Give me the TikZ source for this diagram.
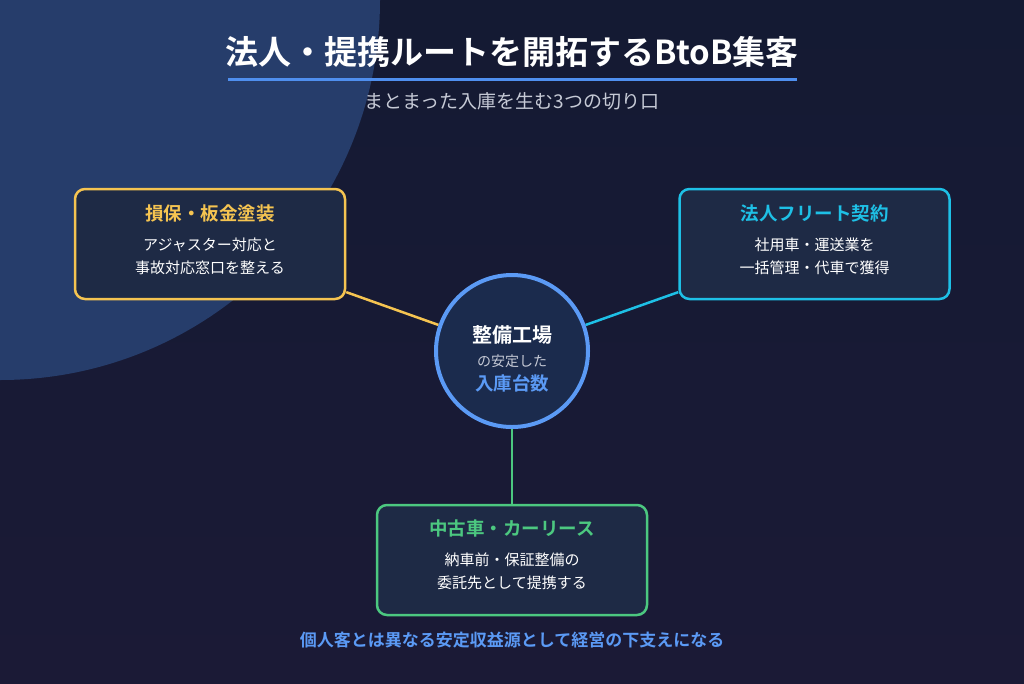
\documentclass[tikz,border=0pt]{standalone}
\usepackage{fontspec}
\setmainfont{Noto Sans CJK JP}[BoldFont={* Bold}]
\definecolor{bgtop}{HTML}{141A33}
\definecolor{bgbot}{HTML}{1B1A36}
\definecolor{blob}{HTML}{263D6B}
\definecolor{boxfill}{HTML}{1E2A45}
\definecolor{hubfill}{HTML}{1B2B4D}
\definecolor{accblue}{HTML}{5B9AF5}
\definecolor{lineblue}{HTML}{4F8FEF}
\definecolor{accyellow}{HTML}{F5C451}
\definecolor{acccyan}{HTML}{1EC0E6}
\definecolor{accgreen}{HTML}{4CC880}
\definecolor{subgray}{HTML}{C6CAD6}
\pgfdeclarelayer{back}
\pgfdeclarelayer{links}
\pgfsetlayers{back,links,main}
\tikzset{
  x=1pt, y=-1pt,
  card/.style={draw=#1, line width=2.5pt, fill=boxfill, rounded corners=10pt,
    minimum width=270pt, minimum height=110pt, inner sep=0pt},
  cardtitle/.style={font=\bfseries\fontsize{18.5}{21}\selectfont, text=#1},
  cardbody/.style={font=\fontsize{15}{23}\selectfont, text=white, align=center},
  hubstyle/.style={circle, draw=accblue, line width=4pt, fill=hubfill, minimum size=152pt, inner sep=0pt},
  link/.style={draw=#1, line width=2.5pt},
}
\begin{document}
\begin{tikzpicture}
\useasboundingbox (0,0) rectangle (1024,683);
\begin{pgfonlayer}{back}
\shade[top color=bgtop, bottom color=bgbot] (0,0) rectangle (1024,683);
\begin{scope}
\clip (0,0) rectangle (1024,683);
\fill[blob] (0,0) circle (380);
\end{scope}
\end{pgfonlayer}

% title
\node[font=\bfseries\fontsize{33}{37}\selectfont, text=white] (title) at (512,52) {法人・提携ルートを開拓するBtoB集客};
\coordinate (ulL) at (228,79);
\coordinate (ulR) at (797,79);
\draw[lineblue, line width=3pt] (ulL) -- (ulR);
\node[font=\fontsize{19}{21}\selectfont, text=subgray] (sub) at (512,101) {まとまった入庫を生む3つの切り口};

% nodes
\node[card=accyellow] (left) at (210,244) {};
\node[card=acccyan] (right) at (814.5,244) {};
\node[card=accgreen] (bottom) at (512,560) {};
\node[hubstyle] (hub) at (512,351) {};

% connectors (behind nodes)
\begin{pgfonlayer}{links}
\draw[link=accyellow] (left) -- (hub);
\draw[link=acccyan] (right) -- (hub);
\draw[link=accgreen] (hub) -- (bottom);
\end{pgfonlayer}

% card texts
\node[cardtitle=accyellow] (lt) at (210,213) {損保・板金塗装};
\node[cardbody] (lb) at (210,256) {アジャスター対応と\\事故対応窓口を整える};
\node[cardtitle=acccyan] (rt) at (814.5,213) {法人フリート契約};
\node[cardbody] (rb) at (814.5,256) {社用車・運送業を\\一括管理・代車で獲得};
\node[cardtitle=accgreen] (bt) at (512,528) {中古車・カーリース};
\node[cardbody] (bb) at (512,571) {納車前・保証整備の\\委託先として提携する};

% hub texts
\node[font=\bfseries\fontsize{20}{23}\selectfont, text=white] (h1) at (512,335) {整備工場};
\node[font=\fontsize{14}{16}\selectfont, text=subgray] (h2) at (512,361) {の安定した};
\node[font=\bfseries\fontsize{18.5}{21}\selectfont, text=accblue] (h3) at (512,383) {入庫台数};

% footer
\node[font=\bfseries\fontsize{17}{19}\selectfont, text=accblue] (foot) at (512,640) {個人客とは異なる安定収益源として経営の下支えになる};
\end{tikzpicture}
\end{document}
